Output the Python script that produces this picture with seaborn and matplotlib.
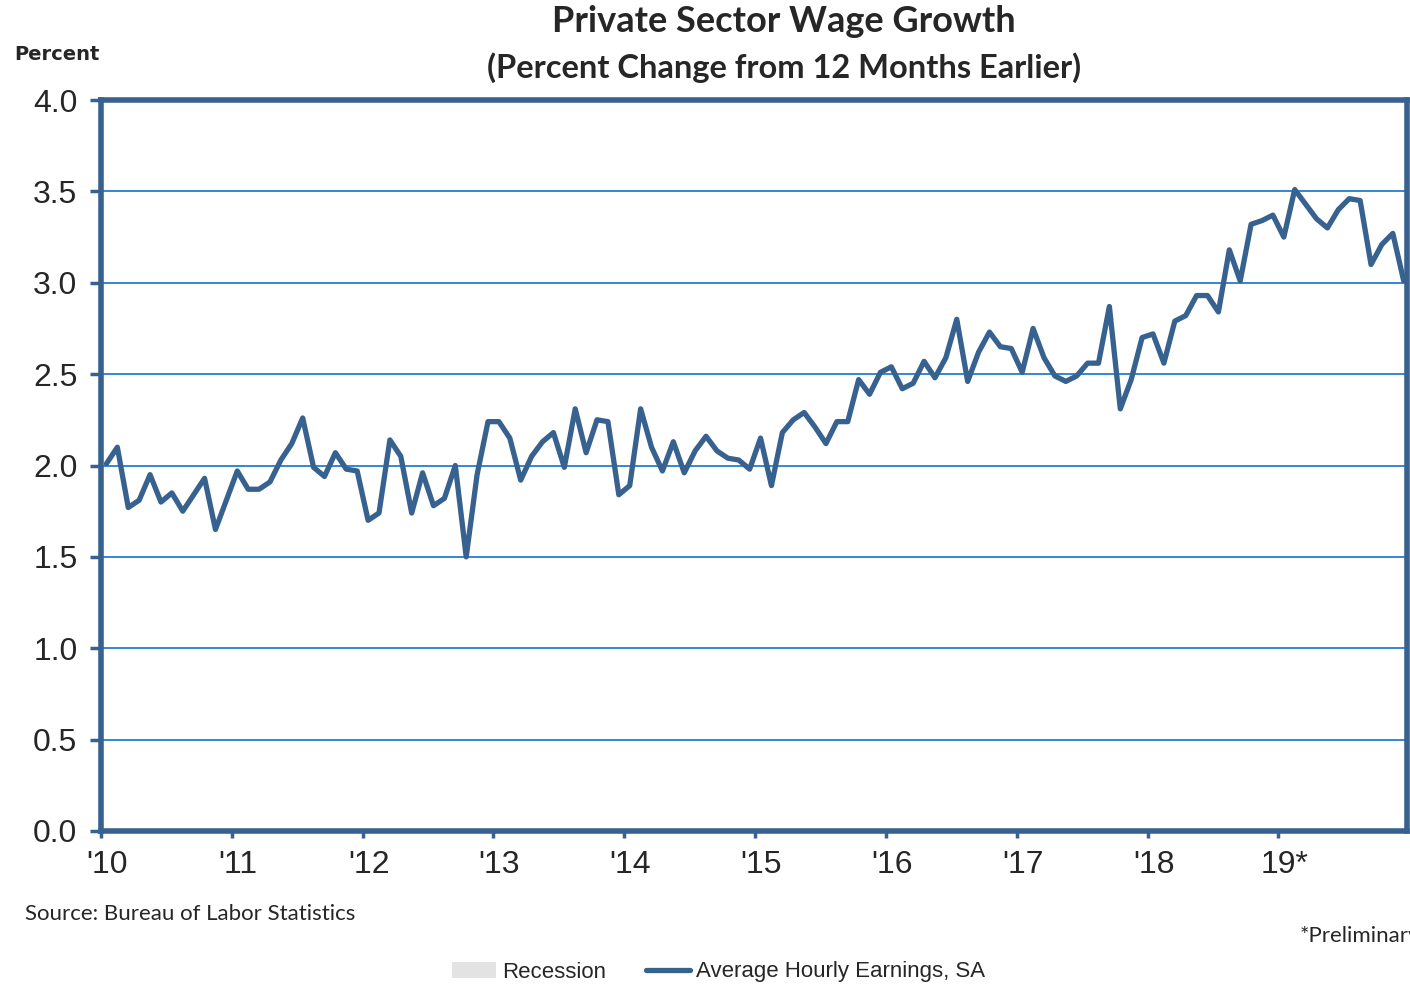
import numpy as np
import pandas as pd
import matplotlib
matplotlib.use("Agg")
import matplotlib.pyplot as plt
import seaborn as sns
from matplotlib.lines import Line2D
from matplotlib.patches import Patch
from matplotlib.transforms import ScaledTranslation

# Year-over-year % change in average hourly earnings, private sector (monthly)
wage_2010 = [2.01, 2.10, 1.77, 1.81, 1.95, 1.80, 1.85, 1.75, 1.84, 1.93, 1.65, 1.81]
wage_2011 = [1.97, 1.87, 1.87, 1.91, 2.03, 2.12, 2.26, 1.99, 1.94, 2.07, 1.98, 1.97]
wage_2012 = [1.70, 1.74, 2.14, 2.05, 1.74, 1.96, 1.78, 1.82, 2.00, 1.50, 1.95, 2.24]
wage_2013 = [2.24, 2.15, 1.92, 2.05, 2.13, 2.18, 1.99, 2.31, 2.07, 2.25, 2.24, 1.84]
wage_2014 = [1.89, 2.31, 2.10, 1.97, 2.13, 1.96, 2.08, 2.16, 2.08, 2.04, 2.03, 1.98]
wage_2015 = [2.15, 1.89, 2.18, 2.25, 2.29, 2.21, 2.12, 2.24, 2.24, 2.47, 2.39, 2.51]
wage_2016 = [2.54, 2.42, 2.45, 2.57, 2.48, 2.59, 2.80, 2.46, 2.62, 2.73, 2.65, 2.64]
wage_2017 = [2.51, 2.75, 2.59, 2.49, 2.46, 2.49, 2.56, 2.56, 2.87, 2.31, 2.47, 2.70]
wage_2018 = [2.72, 2.56, 2.79, 2.82, 2.93, 2.93, 2.84, 3.18, 3.01, 3.32, 3.34, 3.37]
wage_2019 = [3.25, 3.51, 3.43, 3.35, 3.30, 3.40, 3.46, 3.45, 3.10, 3.21, 3.27, 3.01]

year_labels = ["'10", "'11", "'12", "'13", "'14", "'15", "'16", "'17", "'18", "19*"]
y_ticks = [0.0, 0.5, 1.0, 1.5, 2.0, 2.5, 3.0, 3.5, 4.0]

growth = (wage_2010 + wage_2011 + wage_2012 + wage_2013 + wage_2014 +
          wage_2015 + wage_2016 + wage_2017 + wage_2018 + wage_2019)
df = pd.DataFrame({"month": np.arange(len(growth)), "growth": growth})

NAVY = "#37618f"
GRID = "#3586d2"

sns.set_style("white")
plt.rcParams["font.family"] = ["Liberation Sans", "DejaVu Sans"]

W, H = 1410, 985
fig = plt.figure(figsize=(W / 100, H / 100), dpi=100)
ax = fig.add_axes([101 / W, 1 - 831 / H, (1407 - 101) / W, (831 - 100) / H])

sns.lineplot(data=df, x="month", y="growth", ax=ax, color=NAVY,
             linewidth=3.8, zorder=3)

ax.set_xlim(-0.5, 119.3)
ax.set_ylim(0, 4)
ax.set_xlabel("")
ax.set_ylabel("")

ax.set_yticks(y_ticks)
ax.set_yticklabels([f"{v:.1f}" for v in y_ticks])
ax.set_xticks([-0.5 + 12 * k for k in range(len(year_labels))])
ax.set_xticklabels(year_labels)

ax.yaxis.grid(True, color=GRID, linewidth=1.4, zorder=1)
ax.xaxis.grid(False)
ax.set_axisbelow(True)

for side in ["left", "right", "top", "bottom"]:
    ax.spines[side].set_visible(True)
    ax.spines[side].set_color(NAVY)
    ax.spines[side].set_linewidth(4.0)

ax.tick_params(axis="y", direction="out", length=8, width=2.5, color=NAVY,
               labelsize=23, pad=9, left=True)
ax.tick_params(axis="x", direction="out", length=5, width=2.5, color=NAVY,
               labelsize=23, pad=9, bottom=True)
shift = ScaledTranslation(6 / 100, 0, fig.dpi_scale_trans)
for lbl in ax.get_xticklabels():
    lbl.set_transform(lbl.get_transform() + shift)

# Titles and notes
fig.text(784 / W, 1 - 22 / H, "Private Sector Wage Growth", ha="center",
         va="center", fontsize=26, fontweight="bold", family=["Lato", "DejaVu Sans"])
fig.text(784 / W, 1 - 68 / H, "(Percent Change from 12 Months Earlier)",
         ha="center", va="center", fontsize=23.5, fontweight="bold",
         family=["Lato", "DejaVu Sans"])
fig.text(14 / W, 1 - 55 / H, "Percent", ha="left", va="center", fontsize=14,
         fontweight="bold", family=["DejaVu Sans"])
fig.text(25 / W, 1 - 914 / H, "Source: Bureau of Labor Statistics", ha="left",
         va="center", fontsize=16, family=["Lato", "DejaVu Sans"])
fig.text(1300 / W, 1 - 936 / H, "*Preliminary", ha="left", va="center",
         fontsize=16, family=["Lato", "DejaVu Sans"])

handles = [Patch(facecolor="#e3e3e3", edgecolor="none"),
           Line2D([0], [0], color=NAVY, linewidth=3.8)]
fig.legend(handles, ["Recession", "Average Hourly Earnings, SA"],
           loc="center", bbox_to_anchor=(0.5095, 1 - 972 / H), ncol=2,
           frameon=False, fontsize=16, handlelength=2.0, handleheight=0.7,
           handletextpad=0.25, columnspacing=1.8)

fig.savefig("out.png", dpi=100)
